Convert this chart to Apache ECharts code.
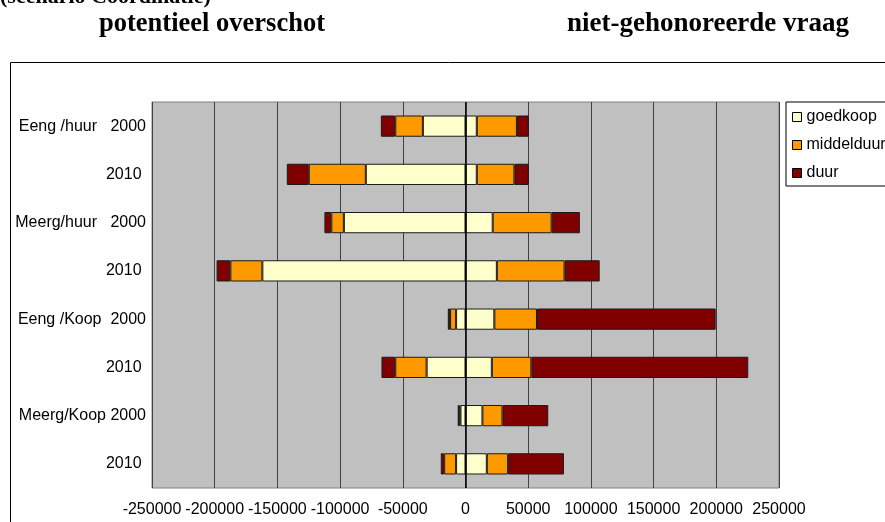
<!DOCTYPE html>
<html>
<head>
<meta charset="utf-8">
<script src="https://cdn.jsdelivr.net/npm/echarts@6/dist/echarts.min.js"></script>
<style>
  html, body { margin: 0; padding: 0; background: #fff; }
  #main { width: 885px; height: 522px; }
</style>
</head>
<body>
<div id="main"></div>
<script>
// categorieen (van boven naar beneden)
var categories = ['Eeng /huur   2000', '2010 ', 'Meerg/huur   2000', '2010 ',
                  'Eeng /Koop  2000', '2010 ', 'Meerg/Koop 2000', '2010 '];

// potentieel overschot (negatief)
var overGoedkoop   = [-34000, -79500, -97000, -162000, -7500, -31000, -4000, -7500];
var overMiddelduur = [-22000, -45500, -10000, -25500, -4800, -25000, -1000, -9500];
var overDuur       = [-11500, -17500, -5500, -11000, -1800, -11000, -1200, -2700];

// niet-gehonoreerde vraag (positief)
var vraagGoedkoop   = [9000, 9000, 21700, 25000, 23000, 21000, 13500, 17000];
var vraagMiddelduur = [32000, 30000, 47000, 54000, 34000, 31500, 16000, 17000];
var vraagDuur       = [9500, 11500, 22500, 28000, 142500, 173000, 36500, 44500];

var xTicks = [-250000, 250000, 50000]; // min, max, interval

var kleuren = { goedkoop: '#ffffcc', middelduur: '#ff9900', duur: '#800000' };

var chart = echarts.init(document.getElementById('main'));

function balk(naam, data, extra) {
  var s = {
    name: naam,
    type: 'bar',
    stack: 'totaal',
    barCategoryGap: '56%',
    data: data,
    itemStyle: { color: kleuren[naam], borderColor: '#1a1a1a', borderWidth: 1 },
    animation: false
  };
  if (extra) Object.assign(s, extra);
  return s;
}

var option = {
  animation: false,
  graphic: [
    { type: 'rect', shape: { x: 10.5, y: 62.5, width: 900, height: 500 },
      style: { fill: 'none', stroke: '#000', lineWidth: 1 }, silent: true },
    { type: 'text', x: 0, y: -3,
      style: { text: '(scenario Coordinatie)', font: 'bold 22px "Liberation Serif"', fill: '#000',
               textAlign: 'left', textVerticalAlign: 'middle' } },
    { type: 'text', x: 212, y: 24,
      style: { text: 'potentieel overschot', font: 'bold 26.5px "Liberation Serif"', fill: '#000',
               textAlign: 'center', textVerticalAlign: 'middle' } },
    { type: 'text', x: 708, y: 24,
      style: { text: 'niet-gehonoreerde vraag', font: 'bold 27px "Liberation Serif"', fill: '#000',
               textAlign: 'center', textVerticalAlign: 'middle' } }
  ],
  grid: {
    left: 152, top: 102, width: 627, height: 386,
    show: true, backgroundColor: '#c0c0c0', borderColor: '#808080', borderWidth: 1,
    outerBoundsMode: 'none'
  },
  legend: {
    orient: 'vertical',
    left: 786, top: 102,
    padding: [7, 40, 5, 6],
    backgroundColor: '#fff',
    borderColor: '#000', borderWidth: 1,
    itemWidth: 9, itemHeight: 9, itemGap: 12,
    icon: 'rect',
    itemStyle: { borderColor: '#000', borderWidth: 1 },
    textStyle: { fontFamily: 'Liberation Sans', fontSize: 16, color: '#000' },
    data: ['goedkoop', 'middelduur', 'duur']
  },
  xAxis: {
    type: 'value',
    min: xTicks[0], max: xTicks[1], interval: xTicks[2],
    axisLine: { show: false },
    axisTick: { show: false },
    axisLabel: {
      margin: 14, fontFamily: 'Liberation Sans', fontSize: 16, color: '#000',
      formatter: function (v) { return String(v); }
    },
    splitLine: { show: true, lineStyle: { color: '#404040', width: 1 } }
  },
  yAxis: {
    type: 'category',
    inverse: true,
    data: categories,
    axisLine: { show: false },
    axisTick: { show: false },
    axisLabel: { margin: 6, fontFamily: 'Liberation Sans', fontSize: 16, color: '#000' }
  },
  series: [
    balk('goedkoop', overGoedkoop),
    balk('middelduur', overMiddelduur),
    balk('duur', overDuur),
    balk('goedkoop', vraagGoedkoop),
    balk('middelduur', vraagMiddelduur),
    balk('duur', vraagDuur, {
      markLine: {
        silent: true, symbol: 'none', animation: false,
        label: { show: false },
        lineStyle: { color: '#000', type: 'solid', width: 1.5 },
        data: [{ xAxis: 0 }]
      }
    })
  ]
};

chart.setOption(option);
</script>
</body>
</html>
